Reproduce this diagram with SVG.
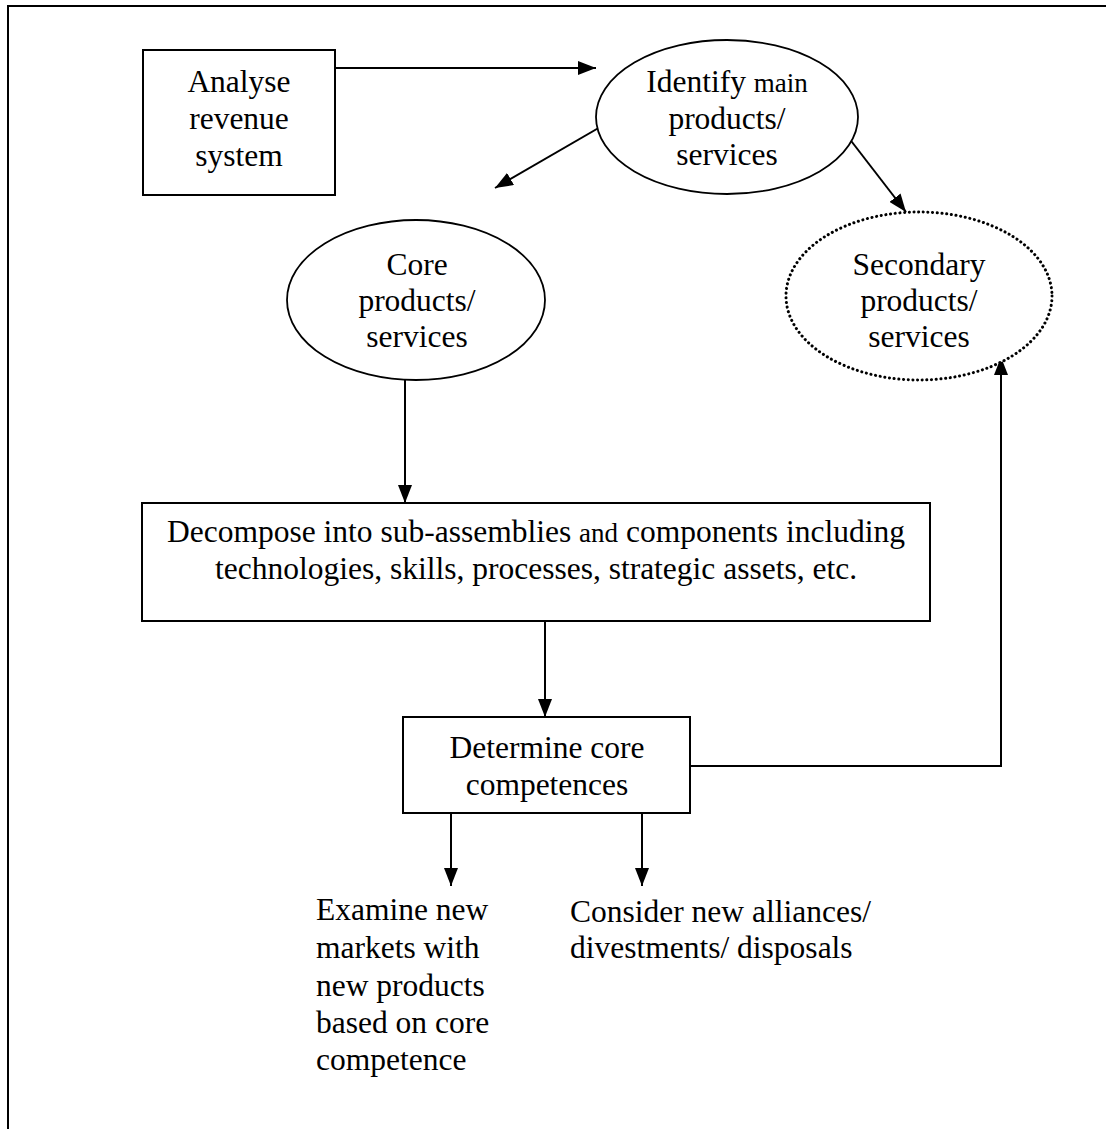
<svg xmlns="http://www.w3.org/2000/svg" width="1106" height="1129" viewBox="0 0 1106 1129">
  <style>
    .frame { fill: none; stroke: #000; stroke-width: 2; }
    .box { fill: #fff; stroke: #000; stroke-width: 2; }
    .oval { fill: #fff; stroke: #000; stroke-width: 1.8; }
    .dotted { fill: #fff; stroke: #000; stroke-width: 3; stroke-linecap: round; stroke-dasharray: 0.1 4.6; }
    .edge { fill: none; stroke: #000; stroke-width: 2; marker-end: url(#head); }
    text { font-family: "Liberation Serif", "Times New Roman", serif; font-size: 31.5px; fill: #000; }
    .c { text-anchor: middle; }
    .sm { font-size: 27px; }
  </style>
  <defs>
    <marker id="head" viewBox="0 0 18 14" refX="18" refY="7" markerWidth="18" markerHeight="14" markerUnits="userSpaceOnUse" orient="auto">
      <path d="M0,0 L18,7 L0,14 z" fill="#000"/>
    </marker>
  </defs>
  <rect width="1106" height="1129" fill="#fff"/>

  <!-- page frame, open to the right and bottom -->
  <rect class="frame" x="8" y="6" width="1200" height="1200"/>

  <g id="connectors">
    <line class="edge" x1="335" y1="68" x2="596" y2="68"/>
    <line class="edge" x1="621" y1="115" x2="495" y2="188"/>
    <line class="edge" x1="835" y1="120" x2="906" y2="212"/>
    <line class="edge" x1="405" y1="380" x2="405" y2="503"/>
    <line class="edge" x1="545" y1="621" x2="545" y2="717"/>
    <polyline class="edge" points="690,766 1001,766 1001,357"/>
    <line class="edge" x1="451" y1="813" x2="451" y2="886"/>
    <line class="edge" x1="642" y1="813" x2="642" y2="886"/>
  </g>

  <g id="analyse">
    <rect class="box" x="143" y="50" width="192" height="145"/>
    <text class="c" x="239" y="92">Analyse</text>
    <text class="c" x="239" y="129">revenue</text>
    <text class="c" x="239" y="166">system</text>
  </g>

  <g id="identify">
    <ellipse class="oval" cx="727" cy="117" rx="131" ry="77"/>
    <text class="c" x="727" y="92">Identify <tspan class="sm">main</tspan></text>
    <text class="c" x="727" y="129">products/</text>
    <text class="c" x="727" y="165">services</text>
  </g>

  <g id="core">
    <ellipse class="oval" cx="416" cy="300" rx="129" ry="80"/>
    <text class="c" x="417" y="275">Core</text>
    <text class="c" x="417" y="311">products/</text>
    <text class="c" x="417" y="347">services</text>
  </g>

  <g id="secondary">
    <ellipse class="dotted" cx="919" cy="296" rx="133" ry="84"/>
    <text class="c" x="919" y="275">Secondary</text>
    <text class="c" x="919" y="311">products/</text>
    <text class="c" x="919" y="347">services</text>
  </g>

  <g id="decompose">
    <rect class="box" x="142" y="503" width="788" height="118"/>
    <text class="c" x="536" y="542">Decompose into sub-assemblies <tspan class="sm">and</tspan> components including</text>
    <text class="c" x="536" y="579">technologies, skills, processes, strategic assets, etc.</text>
  </g>

  <g id="determine">
    <rect class="box" x="403" y="717" width="287" height="96"/>
    <text class="c" x="547" y="758">Determine core</text>
    <text class="c" x="547" y="795">competences</text>
  </g>

  <g id="examine">
    <text x="316" y="920">Examine new</text>
    <text x="316" y="958">markets with</text>
    <text x="316" y="996">new products</text>
    <text x="316" y="1033">based on core</text>
    <text x="316" y="1070">competence</text>
  </g>

  <g id="consider">
    <text x="570" y="922">Consider new alliances/</text>
    <text x="570" y="958">divestments/ disposals</text>
  </g>
</svg>
